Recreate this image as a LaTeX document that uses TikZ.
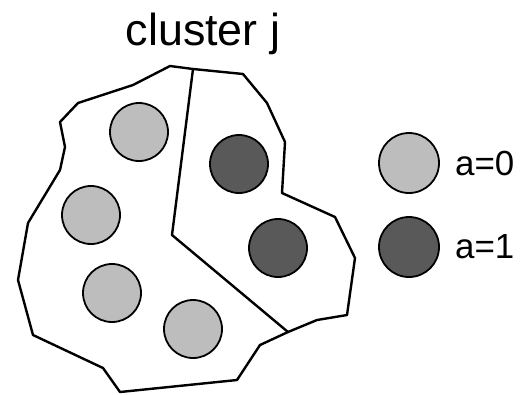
\documentclass[tikz,border=0pt]{standalone}
\usepackage{fontspec}
\setmainfont{Liberation Sans}
\usepackage{tikz}
\usetikzlibrary{calc,positioning}
\definecolor{lightball}{HTML}{bdbdbd}
\definecolor{darkball}{HTML}{595959}

\begin{document}
\begin{tikzpicture}[x=1bp,y=-1bp,line join=round]
    \useasboundingbox (0,0) rectangle (528,394);

    % cluster outline
    \draw[line width=2.4bp] (170,66) -- (193,69) -- (243,74) -- (267,103) -- (285,142)
        -- (282,193) -- (335,217) -- (355,258) -- (347,315) -- (317,320)
        -- (288,332) -- (260,345) -- (237,380) -- (120,392) -- (103,368)
        -- (33,335) -- (18,280) -- (28,223) -- (60,170) -- (65,147)
        -- (60,122) -- (78,103) -- (133,85) -- cycle;
    % split into a=0 / a=1 part
    \draw[line width=2.4bp] (193,69) -- (172,235) -- (288,332);

    \draw[fill=lightball,line width=1.8bp](139,132) circle (29);
    \draw[fill=lightball,line width=1.8bp](91,215) circle (29);
    \draw[fill=lightball,line width=1.8bp](112,293) circle (29);
    \draw[fill=lightball,line width=1.8bp](193,329) circle (29);

    \draw[fill=darkball,line width=1.8bp](239,164) circle (29);
    \draw[fill=darkball,line width=1.8bp](278,248) circle (29);

    % legend
    \draw[fill=lightball,line width=1.8bp](409,163) circle (30);
    \draw[fill=darkball,line width=1.8bp](409,247) circle (30);

    \node (title) [anchor=base, inner sep=0pt] at (203,45) {\fontsize{45}{54}\selectfont cluster j};
    \node (azero) [anchor=base west, inner sep=0pt] at (455,175) {\fontsize{35}{42}\selectfont a=0};
    \node (aone) [anchor=base west, inner sep=0pt] at (455,258) {\fontsize{35}{42}\selectfont a=1};
\end{tikzpicture}
\end{document}
